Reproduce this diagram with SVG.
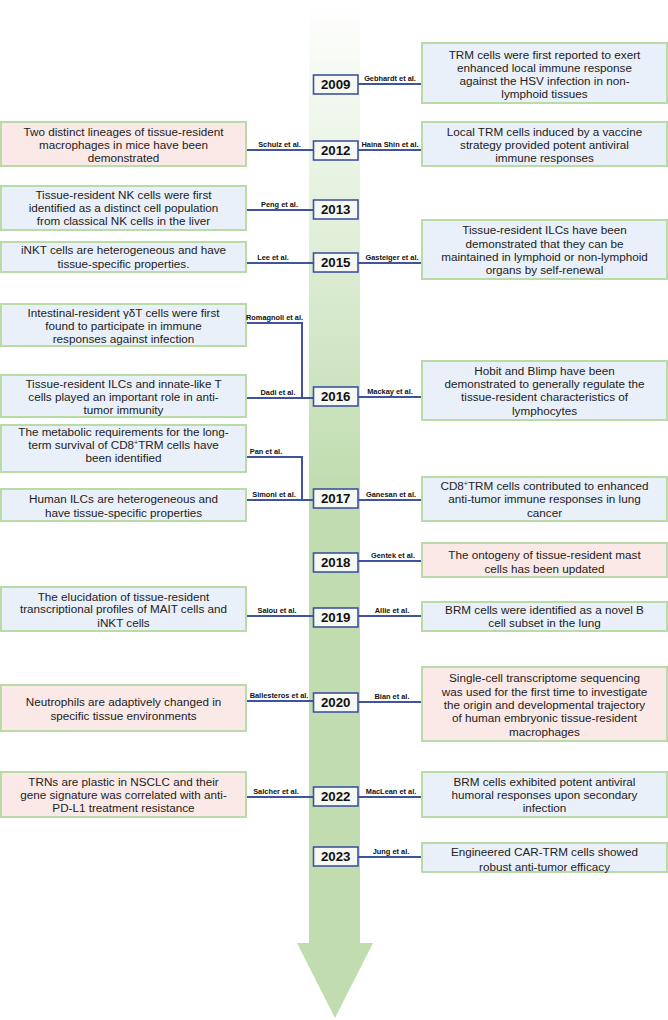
<svg xmlns="http://www.w3.org/2000/svg" width="668" height="1020" viewBox="0 0 668 1020">
<defs>
<linearGradient id="shaft" gradientUnits="userSpaceOnUse" x1="0" y1="0" x2="0" y2="480">
<stop offset="0" stop-color="#ffffff"/>
<stop offset="1" stop-color="#c1ddb0"/>
</linearGradient>
<style>
.box{stroke:#b8dba8;stroke-width:2}
.blue{fill:#e9f0f9}
.pink{fill:#fbe9e8}
.t{font-family:"Liberation Sans",Arial,sans-serif;font-size:11.7px;fill:#222;text-anchor:middle}
.yr{fill:#f6f8f3;stroke:#3f539f;stroke-width:1.6}
.yt{font-family:"Liberation Sans",Arial,sans-serif;font-size:13.3px;font-weight:bold;fill:#111;text-anchor:middle}
.au{font-family:"Liberation Sans",Arial,sans-serif;font-size:7.4px;font-weight:bold;fill:#111;text-anchor:middle}
.c{stroke:#3f539f;stroke-width:2;fill:none}
.sup{font-size:7px}
</style>
</defs>
<rect width="668" height="1020" fill="#ffffff"/>
<path id="timeline-arrow" d="M309,0 H360 V943 H373 L335,1018 L297,943 H309 Z" fill="url(#shaft)"/>

<g id="connectors">
<path class="c" d="M358,84 H422"/>
<path class="c" d="M246,150 H313 M358,150 H422"/>
<path class="c" d="M246,210 H313"/>
<path class="c" d="M246,263 H313 M358,263 H422"/>
<path class="c" d="M246,323 H302 V398 M246,398 H313 M358,397 H422"/>
<path class="c" d="M246,457 H302 V500 M246,500 H313 M358,500 H422"/>
<path class="c" d="M358,561 H422"/>
<path class="c" d="M246,616 H313 M358,616 H422"/>
<path class="c" d="M246,701 H313 M358,702 H422"/>
<path class="c" d="M246,797 H313 M358,797 H422"/>
<path class="c" d="M358,857 H422"/>
</g>

<g id="y2009"><rect class="yr" x="313.5" y="75" width="44.5" height="19"/><text class="yt" x="335.7" y="89.4">2009</text></g>
<g id="y2012"><rect class="yr" x="313.5" y="141" width="44.5" height="19"/><text class="yt" x="335.7" y="155.4">2012</text></g>
<g id="y2013"><rect class="yr" x="313.5" y="200" width="44.5" height="19"/><text class="yt" x="335.7" y="214.4">2013</text></g>
<g id="y2015"><rect class="yr" x="313.5" y="253" width="44.5" height="19"/><text class="yt" x="335.7" y="267.4">2015</text></g>
<g id="y2016"><rect class="yr" x="313.5" y="387" width="44.5" height="19"/><text class="yt" x="335.7" y="401.4">2016</text></g>
<g id="y2017"><rect class="yr" x="313.5" y="489" width="44.5" height="19"/><text class="yt" x="335.7" y="503.4">2017</text></g>
<g id="y2018"><rect class="yr" x="313.5" y="553" width="44.5" height="19"/><text class="yt" x="335.7" y="567.4">2018</text></g>
<g id="y2019"><rect class="yr" x="313.5" y="608" width="44.5" height="19"/><text class="yt" x="335.7" y="622.4">2019</text></g>
<g id="y2020"><rect class="yr" x="313.5" y="693" width="44.5" height="19"/><text class="yt" x="335.7" y="707.4">2020</text></g>
<g id="y2022"><rect class="yr" x="313.5" y="787" width="44.5" height="19"/><text class="yt" x="335.7" y="801.4">2022</text></g>
<g id="y2023"><rect class="yr" x="313.5" y="847" width="44.5" height="19"/><text class="yt" x="335.7" y="861.4">2023</text></g>

<g id="gebhardt">
<rect class="box blue" x="422" y="43" width="245" height="60"/>
<text class="t" x="544.5" y="59">TRM cells were first reported to exert</text>
<text class="t" x="544.5" y="72">enhanced local immune response</text>
<text class="t" x="544.5" y="85">against the HSV infection in non-</text>
<text class="t" x="544.5" y="98">lymphoid tissues</text>
</g>
<g id="schulz">
<rect class="box pink" x="1" y="122" width="245" height="44"/>
<text class="t" x="123.5" y="136">Two distinct lineages of tissue-resident</text>
<text class="t" x="123.5" y="149">macrophages in mice have been</text>
<text class="t" x="123.5" y="162">demonstrated</text>
</g>
<g id="shin">
<rect class="box blue" x="422" y="122" width="245" height="44"/>
<text class="t" x="544.5" y="136">Local TRM cells induced by a vaccine</text>
<text class="t" x="544.5" y="149">strategy provided potent antiviral</text>
<text class="t" x="544.5" y="162">immune responses</text>
</g>
<g id="peng">
<rect class="box blue" x="1" y="186" width="245" height="44"/>
<text class="t" x="123.5" y="199">Tissue-resident NK cells were first</text>
<text class="t" x="123.5" y="212">identified as a distinct cell population</text>
<text class="t" x="123.5" y="225">from classical NK cells in the liver</text>
</g>
<g id="lee">
<rect class="box blue" x="1" y="242" width="245" height="30"/>
<text class="t" x="123.5" y="254">iNKT cells are heterogeneous and have</text>
<text class="t" x="123.5" y="268">tissue-specific properties.</text>
</g>
<g id="gasteiger">
<rect class="box blue" x="422" y="220" width="245" height="59"/>
<text class="t" x="544.5" y="234">Tissue-resident ILCs have been</text>
<text class="t" x="544.5" y="248">demonstrated that they can be</text>
<text class="t" x="544.5" y="261">maintained in lymphoid or non-lymphoid</text>
<text class="t" x="544.5" y="274">organs by self-renewal</text>
</g>
<g id="romagnoli">
<rect class="box blue" x="1" y="304" width="245" height="42"/>
<text class="t" x="123.5" y="317">Intestinal-resident γδT cells were first</text>
<text class="t" x="123.5" y="330">found to participate in immune</text>
<text class="t" x="123.5" y="343">responses against infection</text>
</g>
<g id="dadi">
<rect class="box blue" x="1" y="375" width="245" height="42"/>
<text class="t" x="123.5" y="388">Tissue-resident ILCs and innate-like T</text>
<text class="t" x="123.5" y="401">cells played an important role in anti-</text>
<text class="t" x="123.5" y="414">tumor immunity</text>
</g>
<g id="mackay">
<rect class="box blue" x="422" y="361" width="245" height="59"/>
<text class="t" x="544.5" y="375">Hobit and Blimp have been</text>
<text class="t" x="544.5" y="388">demonstrated to generally regulate the</text>
<text class="t" x="544.5" y="401">tissue-resident characteristics of</text>
<text class="t" x="544.5" y="415">lymphocytes</text>
</g>
<g id="pan">
<rect class="box blue" x="1" y="425" width="245" height="47"/>
<text class="t" x="123.5" y="436">The metabolic requirements for the long-</text>
<text class="t" x="123.5" y="449">term survival of CD8<tspan class="sup" dy="-4">+</tspan><tspan dy="4">TRM cells have</tspan></text>
<text class="t" x="123.5" y="462">been identified</text>
</g>
<g id="simoni">
<rect class="box blue" x="1" y="489" width="245" height="32"/>
<text class="t" x="123.5" y="503">Human ILCs are heterogeneous and</text>
<text class="t" x="123.5" y="517">have tissue-specific properties</text>
</g>
<g id="ganesan">
<rect class="box blue" x="422" y="477" width="245" height="44"/>
<text class="t" x="544.5" y="490">CD8<tspan class="sup" dy="-4">+</tspan><tspan dy="4">TRM cells contributed to enhanced</tspan></text>
<text class="t" x="544.5" y="503">anti-tumor immune responses in lung</text>
<text class="t" x="544.5" y="517">cancer</text>
</g>
<g id="gentek">
<rect class="box pink" x="422" y="543" width="245" height="34"/>
<text class="t" x="544.5" y="559">The ontogeny of tissue-resident mast</text>
<text class="t" x="544.5" y="573">cells has been updated</text>
</g>
<g id="salou">
<rect class="box blue" x="1" y="587" width="245" height="44"/>
<text class="t" x="123.5" y="601">The elucidation of tissue-resident</text>
<text class="t" x="123.5" y="613">transcriptional profiles of MAIT cells and</text>
<text class="t" x="123.5" y="627">iNKT cells</text>
</g>
<g id="allie">
<rect class="box blue" x="422" y="602" width="245" height="29"/>
<text class="t" x="544.5" y="614">BRM cells were identified as a novel B</text>
<text class="t" x="544.5" y="627">cell subset in the lung</text>
</g>
<g id="ballesteros">
<rect class="box pink" x="1" y="685" width="245" height="46"/>
<text class="t" x="123.5" y="706">Neutrophils are adaptively changed in</text>
<text class="t" x="123.5" y="720">specific tissue environments</text>
</g>
<g id="bian">
<rect class="box pink" x="422" y="667" width="245" height="74"/>
<text class="t" x="544.5" y="682">Single-cell transcriptome sequencing</text>
<text class="t" x="544.5" y="696">was used for the first time to investigate</text>
<text class="t" x="544.5" y="709">the origin and developmental trajectory</text>
<text class="t" x="544.5" y="722">of human embryonic tissue-resident</text>
<text class="t" x="544.5" y="736">macrophages</text>
</g>
<g id="salcher">
<rect class="box pink" x="1" y="772" width="245" height="45"/>
<text class="t" x="123.5" y="786">TRNs are plastic in NSCLC and their</text>
<text class="t" x="123.5" y="799">gene signature was correlated with anti-</text>
<text class="t" x="123.5" y="812">PD-L1 treatment resistance</text>
</g>
<g id="maclean">
<rect class="box blue" x="422" y="772" width="245" height="45"/>
<text class="t" x="544.5" y="786">BRM cells exhibited potent antiviral</text>
<text class="t" x="544.5" y="799">humoral responses upon secondary</text>
<text class="t" x="544.5" y="812">infection</text>
</g>
<g id="jung">
<rect class="box blue" x="422" y="843" width="245" height="29"/>
<text class="t" x="544.5" y="856">Engineered CAR-TRM cells showed</text>
<text class="t" x="544.5" y="871">robust anti-tumor efficacy</text>
</g>

<g id="authors">
<text class="au" x="390" y="81">Gebhardt et al.</text>
<text class="au" x="279.5" y="147">Schulz et al.</text>
<text class="au" x="390" y="147">Haina Shin et al.</text>
<text class="au" x="279.5" y="207">Peng et al.</text>
<text class="au" x="273" y="260">Lee et al.</text>
<text class="au" x="392" y="260">Gasteiger et al.</text>
<text class="au" x="274.5" y="320">Romagnoli et al.</text>
<text class="au" x="278" y="395">Dadi et al.</text>
<text class="au" x="390" y="394">Mackay et al.</text>
<text class="au" x="266" y="454">Pan et al.</text>
<text class="au" x="274" y="497">Simoni et al.</text>
<text class="au" x="391" y="497">Ganesan et al.</text>
<text class="au" x="393" y="558">Gentek et al.</text>
<text class="au" x="277" y="613">Salou et al.</text>
<text class="au" x="392" y="613">Allie et al.</text>
<text class="au" x="279" y="698">Ballesteros et al.</text>
<text class="au" x="392" y="699">Bian et al.</text>
<text class="au" x="276" y="794">Salcher et al.</text>
<text class="au" x="391" y="794">MacLean et al.</text>
<text class="au" x="391" y="854">Jung et al.</text>
</g>
</svg>
